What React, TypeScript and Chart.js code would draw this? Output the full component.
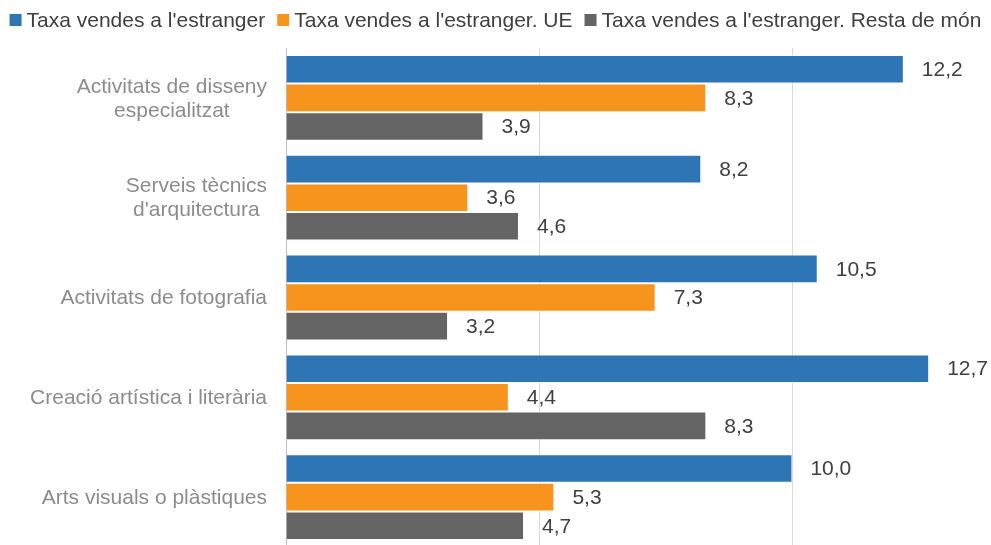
import React, { useEffect, useRef } from "react";
import { Chart, registerables } from "chart.js";

Chart.register(...registerables);

const categories: (string | string[])[] = [
  ["Activitats de disseny", "especialitzat"],
  ["Serveis tècnics", "d'arquitectura"],
  "Activitats de fotografia",
  "Creació artística i literària",
  "Arts visuals o plàstiques",
];

const seriesNames = [
  "Taxa vendes a l'estranger",
  "Taxa vendes a l'estranger. UE",
  "Taxa vendes a l'estranger. Resta de món",
];

const totalValues = [12.2, 8.2, 10.5, 12.7, 10.0];
const euValues = [8.3, 3.6, 7.3, 4.4, 5.3];
const restValues = [3.9, 4.6, 3.2, 8.3, 4.7];

const seriesColors = ["#2E75B6", "#F7941E", "#646464"];
const gridTicks = [0, 5, 10];

const FONT = '21px "Liberation Sans", Arial, sans-serif';
const VISIBLE_W = 991;

const fmt = (v: number) => v.toFixed(1).replace(".", ",");

const customDraw = {
  id: "customDraw",
  afterDatasetsDraw(chart: any) {
    const ctx = chart.ctx;
    ctx.save();
    ctx.font = FONT;
    // value labels
    ctx.fillStyle = "#404040";
    ctx.textAlign = "left";
    ctx.textBaseline = "middle";
    chart.data.datasets.forEach((ds: any, di: number) => {
      const meta = chart.getDatasetMeta(di);
      meta.data.forEach((el: any, i: number) => {
        ctx.fillText(fmt(ds.data[i]), el.x + 18, el.y + 1);
      });
    });
    // category labels
    const yScale = chart.scales.y;
    const rightX = chart.chartArea.left - 19;
    ctx.fillStyle = "#8c8c8c";
    ctx.textAlign = "center";
    categories.forEach((lab, i) => {
      const lines = Array.isArray(lab) ? lab : [lab];
      const maxW = Math.max(...lines.map((l) => ctx.measureText(l).width));
      const cx = rightX - maxW / 2;
      const yc = yScale.getPixelForValue(i);
      lines.forEach((l, li) => {
        ctx.fillText(l, cx, yc + (li - (lines.length - 1) / 2) * 24 + 1);
      });
    });
    // legend
    const box = 12;
    const boxGap = 5;
    const itemGap = 12;
    const widths = seriesNames.map((n) => ctx.measureText(n).width);
    const total =
      widths.reduce((a, b) => a + b, 0) + seriesNames.length * (box + boxGap) + (seriesNames.length - 1) * itemGap;
    let x = (VISIBLE_W - total) / 2;
    ctx.textAlign = "left";
    ctx.textBaseline = "alphabetic";
    seriesNames.forEach((n, i) => {
      ctx.fillStyle = seriesColors[i];
      ctx.fillRect(x, 14, box, box);
      x += box + boxGap;
      ctx.fillStyle = "#404040";
      ctx.fillText(n, x, 27);
      x += widths[i] + itemGap;
    });
    ctx.restore();
  },
};

export default function App() {
  const ref = useRef<HTMLCanvasElement | null>(null);
  useEffect(() => {
    if (!ref.current) return;
    const chart = new Chart(ref.current, {
      type: "bar",
      data: {
        labels: categories.map((c) => (Array.isArray(c) ? c.join(" ") : c)),
        datasets: [totalValues, euValues, restValues].map((d, i) => ({
          label: seriesNames[i],
          data: d,
          backgroundColor: seriesColors[i],
          borderColor: "rgba(255,255,255,0.55)",
          borderWidth: 1,
          barPercentage: 1,
          categoryPercentage: 0.86,
        })),
      },
      options: {
        indexAxis: "y",
        responsive: false,
        animation: false,
        devicePixelRatio: 1,
        layout: { padding: { top: 48, left: 0, right: 0, bottom: 0 } },
        plugins: {
          legend: { display: false },
          tooltip: { enabled: false },
        },
        scales: {
          x: {
            min: 0,
            max: 14,
            ticks: { display: false, stepSize: 5 },
            afterBuildTicks: (scale: any) => {
              scale.ticks = gridTicks.map((v) => ({ value: v }));
            },
            afterFit: (scale: any) => {
              scale.height = 0;
            },
            grid: {
              drawTicks: false,
              color: (c: any) => (c.tick && c.tick.value === 0 ? "rgba(0,0,0,0)" : "#d9d9d9"),
              lineWidth: 1,
            },
            border: { display: false },
          },
          y: {
            ticks: { display: false },
            grid: { display: false, drawTicks: false },
            border: { display: true, color: "#bfbfbf", width: 1 },
            afterFit: (scale: any) => {
              scale.width = 286;
            },
          },
        },
      },
      plugins: [customDraw],
    });
    return () => chart.destroy();
  }, []);
  return (
    <div
      style={{
        position: "fixed",
        left: 0,
        top: 0,
        width: 991,
        height: 545,
        overflow: "hidden",
        background: "#fff",
      }}
    >
      <canvas ref={ref} width={995} height={547} style={{ display: "block" }} />
    </div>
  );
}
